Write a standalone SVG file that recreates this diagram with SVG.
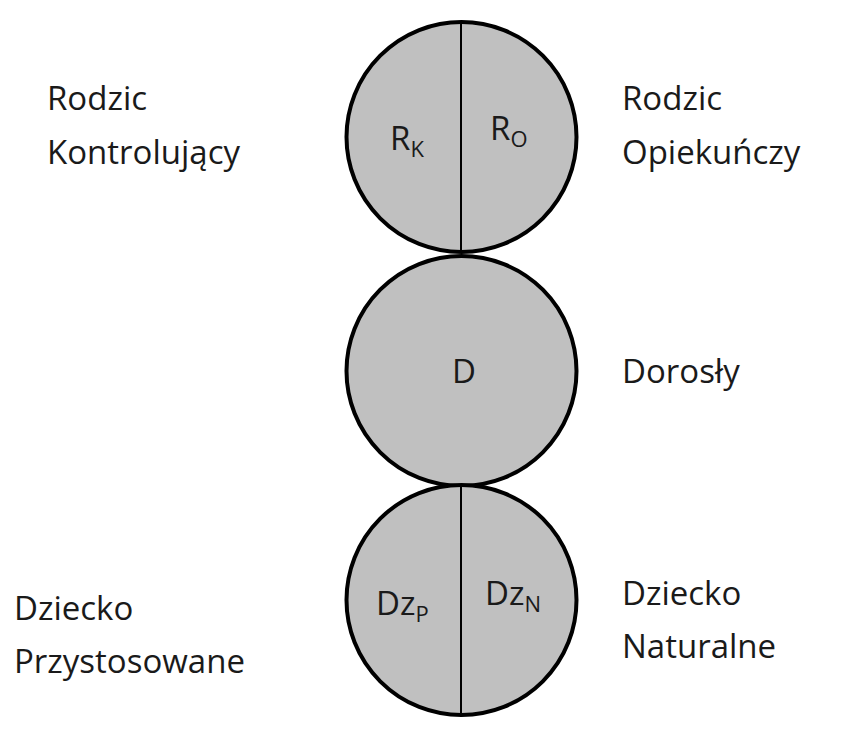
<svg xmlns="http://www.w3.org/2000/svg" width="847" height="737" viewBox="0 0 847 737">
<style>
.c{fill:#c0c0c0;stroke:#000;stroke-width:4}
.d{stroke:#000;stroke-width:2}
text{font-family:"Open Sans","Noto Sans",sans-serif;font-size:33px;fill:#1a1a1a}
.s{font-size:22px}
</style>
<rect width="847" height="737" fill="#fff"/>
<g id="rodzic"><circle class="c" cx="461.5" cy="137" r="115"/><line class="d" x1="461" y1="21" x2="461" y2="253"/>
<text x="390" y="150">R<tspan class="s" dy="7">K</tspan></text>
<text x="490" y="140">R<tspan class="s" dy="7">O</tspan></text></g>
<g id="dorosly"><circle class="c" cx="461.5" cy="371" r="115"/><text x="452" y="383">D</text></g>
<g id="dziecko"><circle class="c" cx="461.5" cy="600" r="115"/><line class="d" x1="461" y1="485" x2="461" y2="717"/>
<text x="376" y="615">Dz<tspan class="s" dy="7">P</tspan></text>
<text x="485" y="605">Dz<tspan class="s" dy="7">N</tspan></text></g>
<g id="labels">
<text x="47" y="110">Rodzic</text><text x="47" y="164">Kontrolujący</text>
<text x="622" y="110">Rodzic</text><text x="622" y="164">Opiekuńczy</text>
<text x="622" y="383">Dorosły</text>
<text x="14" y="620">Dziecko</text><text x="14" y="673">Przystosowane</text>
<text x="622" y="605">Dziecko</text><text x="622" y="658">Naturalne</text>
</g>
<g id="connectors"/>
</svg>
